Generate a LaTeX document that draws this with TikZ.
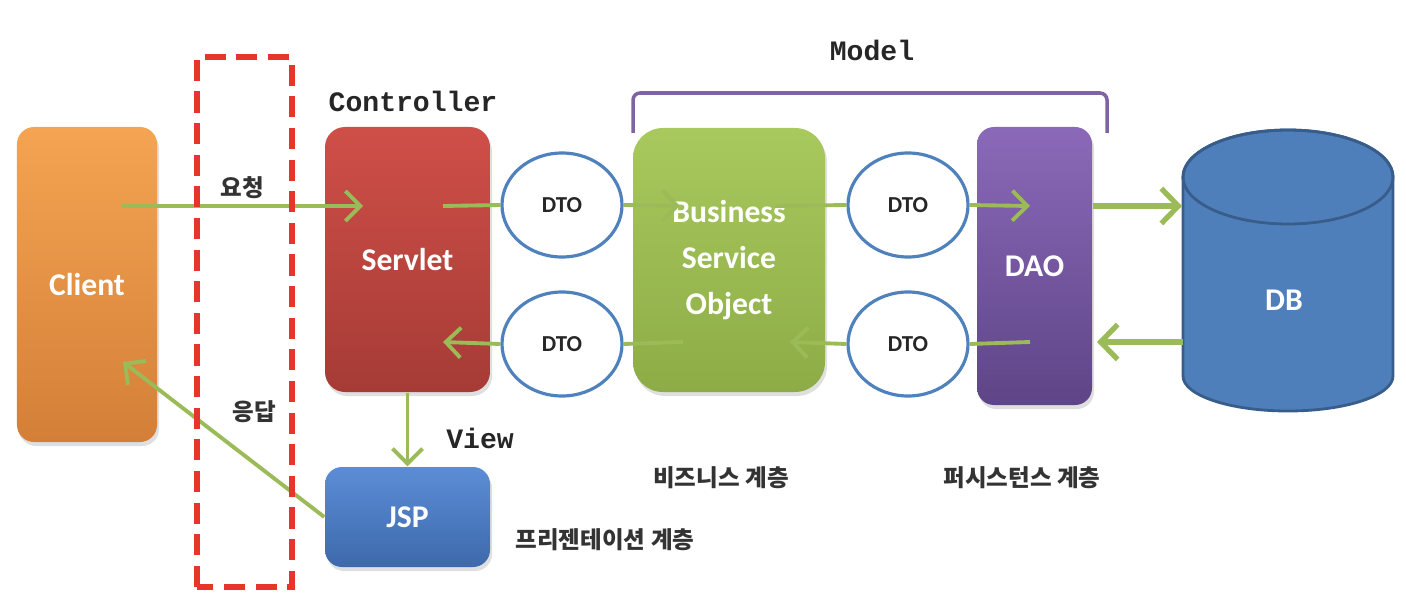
\documentclass[tikz,border=0pt]{standalone}
\usepackage{fontspec}
\setmainfont{Carlito}
\newfontfamily\monofont{Liberation Mono}
\newfontfamily\krfont{Noto Sans CJK KR}
\usepackage{tikz}
\usetikzlibrary{positioning,shapes,arrows.meta,shadows}

\definecolor{clienttop}{HTML}{F4A452}
\definecolor{clientbot}{HTML}{D47F38}
\definecolor{servlettop}{HTML}{CF4F48}
\definecolor{servletbot}{HTML}{A63B36}
\definecolor{jsptop}{HTML}{5B8DD6}
\definecolor{jspbot}{HTML}{3E69AC}
\definecolor{bsotop}{HTML}{A8C95D}
\definecolor{bsobot}{HTML}{8DAC47}
\definecolor{daotop}{HTML}{8B69B9}
\definecolor{daobot}{HTML}{5E4587}
\definecolor{dbblue}{HTML}{4F7FBA}
\definecolor{dbline}{HTML}{385D8A}
\definecolor{dtoblue}{HTML}{4F81BD}
\definecolor{flowgreen}{HTML}{9BBB59}
\definecolor{modelline}{HTML}{8064A2}
\definecolor{reddash}{HTML}{E8352C}

\begin{document}
\begin{tikzpicture}[
block/.style={rounded corners=0.17cm, text=white, align=center, inner sep=0pt, font=\fontsize{9}{13}\selectfont\bfseries, drop shadow={opacity=0.25, shadow xshift=0.02cm, shadow yshift=-0.04cm}},
dto/.style={ellipse, draw=dtoblue, line width=0.9pt, fill=white, minimum width=1.2cm, minimum height=1.04cm, inner sep=0pt, text=black!85, font=\fontsize{6.5}{7}\selectfont\bfseries},
flow/.style={draw=flowgreen, line width=1.1pt, -{Straight Barb[length=1.5mm, width=3mm]}},
bigflow/.style={draw=flowgreen, line width=1.5pt, -{Straight Barb[length=1.7mm, width=3.5mm]}},
flowline/.style={draw=flowgreen, line width=1.1pt},
tag/.style={text=black!85, font=\monofont\fontsize{8}{9}\selectfont\bfseries},
layer/.style={text=black!80, font=\krfont\fontsize{6.7}{8}\selectfont\bfseries},
]
\useasboundingbox (0,0) rectangle (14.06,6.00);

\node[block, top color=clienttop, bottom color=clientbot, minimum width=1.40cm, minimum height=3.15cm] (client) at (0.87,3.155) {Client};
\node[block, top color=servlettop, bottom color=servletbot, rounded corners=0.2cm, minimum width=1.65cm, minimum height=2.65cm] (servlet) at (4.075,3.405) {Servlet};
\node[block, top color=jsptop, bottom color=jspbot, minimum width=1.65cm, minimum height=1.00cm] (jsp) at (4.075,0.83) {JSP};
\node[block, top color=bsotop, bottom color=bsobot, rounded corners=0.3cm, minimum width=1.92cm, minimum height=2.64cm] (bso) at (7.29,3.40) {Business\\Service\\Object};
\node[block, top color=daotop, bottom color=daobot, minimum width=1.15cm, minimum height=2.78cm] (dao) at (10.345,3.34) {DAO};

\filldraw[fill=dbblue, draw=dbline, line width=0.8pt] (11.83,4.23) -- (11.83,2.24) arc[start angle=180, end angle=360, x radius=1.05cm, y radius=0.35cm] -- (13.93,4.23) arc[start angle=0, end angle=180, x radius=1.05cm, y radius=0.47cm] -- cycle;
\draw[dbline, line width=0.8pt] (12.88,4.23) ellipse [x radius=1.05cm, y radius=0.47cm];
\node[text=white, font=\fontsize{9}{11}\selectfont\bfseries] (db) at (12.84,3.00) {DB};

\coordinate (c1) at (1.22,3.94);
\coordinate (c2) at (1.23,2.38);
\coordinate (s1) at (3.63,3.94);
\coordinate (s2) at (4.43,3.94);
\coordinate (s3) at (4.43,2.58);
\coordinate (b1) at (6.80,3.94);
\coordinate (b2) at (7.75,3.94);
\coordinate (b3) at (7.90,2.58);
\coordinate (b4) at (6.83,2.58);
\coordinate (d1) at (10.30,3.94);
\coordinate (d2) at (10.93,3.94);
\coordinate (d3) at (10.97,2.58);
\coordinate (d4) at (10.30,2.58);
\coordinate (db1) at (11.82,3.94);
\coordinate (db2) at (11.83,2.58);

\node[dto] (dto1) at (5.62,3.95) {DTO};
\node[dto] (dto2) at (5.62,2.56) {DTO};
\node[dto] (dto3) at (9.08,3.95) {DTO};
\node[dto] (dto4) at (9.08,2.56) {DTO};

\draw[flow] (c1) -- (s1);
\draw[flowline] (s2) -- (dto1.west);
\draw[flow] (dto1.east) -- (b1);
\draw[flowline] (b2) -- (dto3.west);
\draw[flow] (dto3.east) -- (d1);
\draw[bigflow] (d2) -- (db1);

\draw[bigflow] (db2) -- (d3);
\draw[flowline] (d4) -- (dto4.east);
\draw[flow] (dto4.west) -- (b3);
\draw[flowline] (b4) -- (dto2.east);
\draw[flow] (dto2.west) -- (s3);

\draw[flow] (servlet.south) -- (jsp.north);
\draw[flow] (jsp.west) -- (c2);

\draw[reddash, line width=1.6pt, dash pattern=on 6pt off 3pt] (1.97,0.13) rectangle (2.92,5.43);
\draw[modelline, line width=1pt, rounded corners=2pt] (6.33,4.67) -- (6.33,5.07) -- (11.07,5.07) -- (11.07,4.67);

\node[tag] (ctrl) at (4.13,4.99) {Controller};
\node[tag] (view) at (4.80,1.62) {View};
\node[tag] (model) at (8.72,5.50) {Model};

\node[layer] (req) at (2.42,4.12) {요청};
\node[layer] (resp) at (2.54,1.88) {응답};
\node[layer] (pres) at (6.05,0.60) {프리젠테이션 계층};
\node[layer] (biz) at (7.21,1.22) {비즈니스 계층};
\node[layer] (pers) at (10.22,1.22) {퍼시스턴스 계층};
\end{tikzpicture}
\end{document}
